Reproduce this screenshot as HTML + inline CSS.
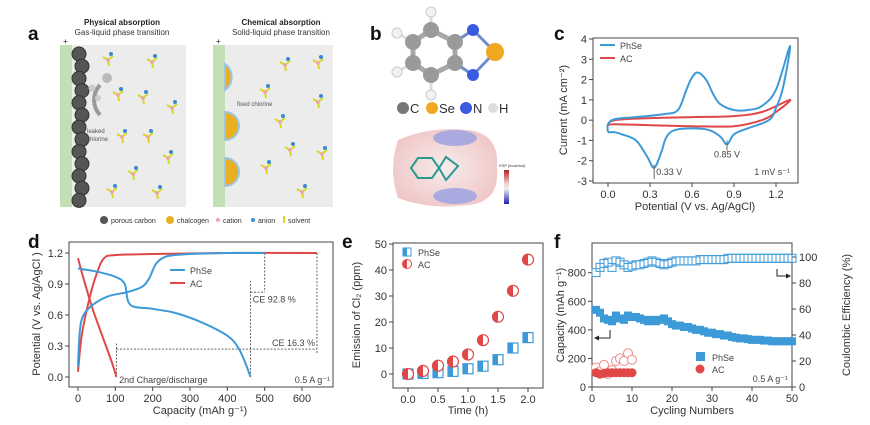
<!DOCTYPE html>
<html><head><meta charset="utf-8"><style>
body{margin:0;background:#fff}
svg{display:block;font-family:"Liberation Sans",sans-serif}
.t{font-size:11px;fill:#333}
.s{font-size:9px;fill:#444}
.L{font-size:19px;font-weight:bold;fill:#111}
</style></head><body>
<svg id="svg" width="870" height="425" viewBox="0 0 870 425">
<!-- panel a -->
<g>
<text class="L" x="28" y="40">a</text>
<text x="122" y="25" text-anchor="middle" font-size="8" font-weight="bold" fill="#222">Physical absorption</text>
<text x="122" y="35" text-anchor="middle" font-size="8" fill="#333">Gas-liquid phase transition</text>
<text x="281" y="25" text-anchor="middle" font-size="8" font-weight="bold" fill="#222">Chemical absorption</text>
<text x="281" y="35" text-anchor="middle" font-size="8" fill="#333">Solid-liquid phase transition</text>
<rect x="60" y="45" width="126" height="162" fill="#ececec"/>
<rect x="60" y="45" width="12" height="162" fill="#c3e0b4"/>
<rect x="213" y="45" width="120" height="162" fill="#ececec"/>
<rect x="213" y="45" width="12" height="162" fill="#c3e0b4"/>
<text x="63" y="44" font-size="8" fill="#222">+</text><text x="216" y="44" font-size="8" fill="#222">+</text>
<g id="carbon"></g>
<path d="M100 85 A22 22 0 0 0 100 115" fill="none" stroke="#999" stroke-width="4"/>
<circle cx="107" cy="78" r="5" fill="#bbb"/><circle cx="92" cy="88" r="3.5" fill="#ccc"/><circle cx="98" cy="98" r="3" fill="#ccc"/>
<text x="87" y="133" font-size="6" fill="#555">leaked</text><text x="87" y="141" font-size="6" fill="#555">chlorine</text>
<g fill="#e8b020" stroke="#9cc6e6" stroke-width="2">
<path d="M225 64 A16 16 0 0 1 225 90 Z"/><path d="M225 112 A14 14 0 0 1 225 140 Z"/><path d="M225 158 A14 14 0 0 1 225 186 Z"/>
</g>
<text x="237" y="106" font-size="6" fill="#555">fixed chlorine</text>
<g id="solv"></g>
<g font-size="7" fill="#333">
<circle cx="104" cy="220" r="4" fill="#555"/><text x="111" y="223">porous carbon</text>
<circle cx="170" cy="220" r="4" fill="#e8b020"/><text x="177" y="223">chalcogen</text>
<circle cx="218" cy="220" r="2" fill="#f0a0b0"/><text x="223" y="223">cation</text>
<circle cx="253" cy="220" r="2" fill="#3a8ad0"/><text x="258" y="223">anion</text>
<rect x="283" y="216" width="2" height="7" fill="#d8d820"/><text x="288" y="223">solvent</text>
</g>
</g>
<!-- panel b -->
<g>
<text class="L" x="370" y="40">b</text>
<g stroke="#a8a8a8" stroke-width="5">
<path d="M431 30 L455 42 L455 63 L431 75 L413 63 L413 42 Z" fill="none"/>
<line x1="431" y1="30" x2="431" y2="12" stroke="#ddd" stroke-width="3"/><line x1="431" y1="75" x2="431" y2="95" stroke="#ddd" stroke-width="3"/>
<line x1="413" y1="42" x2="397" y2="33" stroke="#ddd" stroke-width="3"/><line x1="413" y1="63" x2="397" y2="72" stroke="#ddd" stroke-width="3"/>
<line x1="455" y1="42" x2="473" y2="30" stroke="#6d8cd0" stroke-width="3"/><line x1="455" y1="63" x2="473" y2="75" stroke="#6d8cd0" stroke-width="3"/>
<line x1="473" y1="30" x2="495" y2="52" stroke="#6d8cd0" stroke-width="3"/><line x1="473" y1="75" x2="495" y2="52" stroke="#6d8cd0" stroke-width="3"/>
</g>
<g>
<circle cx="431" cy="12" r="5" fill="#f2f2f2" stroke="#ccc"/><circle cx="397" cy="33" r="5" fill="#f2f2f2" stroke="#ccc"/><circle cx="397" cy="72" r="5" fill="#f2f2f2" stroke="#ccc"/><circle cx="431" cy="95" r="5" fill="#f2f2f2" stroke="#ccc"/>
<circle cx="431" cy="30" r="8" fill="#9a9a9a"/><circle cx="455" cy="42" r="8" fill="#9a9a9a"/><circle cx="455" cy="63" r="8" fill="#9a9a9a"/><circle cx="431" cy="75" r="8" fill="#9a9a9a"/><circle cx="413" cy="63" r="8" fill="#9a9a9a"/><circle cx="413" cy="42" r="8" fill="#9a9a9a"/>
<circle cx="473" cy="30" r="6" fill="#3a5ae0"/><circle cx="473" cy="75" r="6" fill="#3a5ae0"/><circle cx="495" cy="52" r="9" fill="#f0a820"/>
</g>
<g font-size="13" fill="#333">
<circle cx="403" cy="108" r="6" fill="#777"/><text x="410" y="113">C</text>
<circle cx="432" cy="108" r="6" fill="#f0a820"/><text x="439" y="113">Se</text>
<circle cx="466" cy="108" r="6" fill="#3a5ae0"/><text x="473" y="113">N</text>
<circle cx="493" cy="108" r="5" fill="#ddd"/><text x="499" y="113">H</text>
</g>
<defs><linearGradient id="cb" x1="0" y1="0" x2="0" y2="1"><stop offset="0" stop-color="#b02020"/><stop offset=".4" stop-color="#f0d0d0"/><stop offset=".55" stop-color="#eee"/><stop offset="1" stop-color="#2020b0"/></linearGradient>
<radialGradient id="esp" cx=".5" cy=".5" r=".6"><stop offset="0" stop-color="#f8ecec"/><stop offset="1" stop-color="#efc4c4"/></radialGradient></defs>
<path d="M398 140 Q430 126 468 130 Q500 134 497 168 Q500 202 468 205 Q430 210 398 198 Q388 170 398 140Z" fill="url(#esp)"/>
<ellipse cx="455" cy="138" rx="22" ry="8" fill="#8a9ae6" opacity=".7"/><ellipse cx="455" cy="196" rx="22" ry="8" fill="#8a9ae6" opacity=".7"/>
<path d="M418 158 L432 158 L439 168 L432 178 L418 178 L411 168Z M439 168 L446 157 L458 166 L446 180Z" fill="none" stroke="#2a9a90" stroke-width="2"/>
<rect x="504" y="170" width="5" height="34" fill="url(#cb)"/>
<text x="499" y="167" font-size="4" fill="#333">ESP (kcal/mol)</text>
</g>
<!-- chart panels -->
<g id="charts"></g>
<text class="L" x="554" y="40">c</text>
<text class="L" x="28" y="248">d</text>
<text class="L" x="342" y="248">e</text>
<text class="L" x="554" y="248">f</text>
</svg>
<script>
// ---- data ----
const cvPhSeV=[0,0,0.05,0.2,0.4,0.5,0.56,0.6,0.64,0.7,0.75,0.8,0.9,1.0,1.1,1.2,1.3,1.25,1.2,1.15,1.0,0.9,0.85,0.8,0.7,0.5,0.42,0.38,0.33,0.28,0.2,0.1,0.05,0];
const cvPhSeI=[-0.6,-0.2,0.05,0.15,0.3,0.5,1.5,2.1,2.35,2.0,1.3,0.8,0.5,0.5,0.7,1.5,3.65,1.6,0.6,0.0,-0.4,-0.7,-1.2,-0.8,-0.45,-0.45,-0.8,-1.6,-2.35,-1.8,-1.0,-0.7,-0.6,-0.6];
const cvACV=[0,0.05,0.3,0.6,0.9,1.1,1.3,1.2,1.1,0.9,0.6,0.3,0.05,0];
const cvACI=[-0.2,0.0,0.1,0.15,0.2,0.4,1.0,0.4,0.0,-0.3,-0.3,-0.25,-0.2,-0.25];
const cdPhSeChgQ=[0,5,15,40,80,130,170,190,210,240,300,400,500];
const cdPhSeChgV=[0.1,0.45,0.6,0.7,0.78,0.82,0.87,0.95,1.1,1.17,1.19,1.2,1.2];
const cdPhSeDisQ=[0,50,100,125,140,200,260,330,400,430,450,462];
const cdPhSeDisV=[1.05,1.02,0.97,0.9,0.7,0.66,0.62,0.53,0.4,0.28,0.12,0];
const cdACChgQ=[0,10,30,50,70,100,200,400,640];
const cdACChgV=[0.05,0.4,0.75,1.0,1.15,1.18,1.19,1.2,1.2];
const cdACDisQ=[0,15,40,70,90,103];
const cdACDisV=[1.15,0.95,0.65,0.35,0.15,0];
const emTime=[0,0.25,0.5,0.75,1,1.25,1.5,1.75,2];
const emPhSe=[0,0.2,0.5,1,2,3,5.5,10,14];
const emAC=[0,1.2,3.2,4.8,7.5,13,22,32,44];
const cyPhSeCap=[540,520,480,470,460,500,480,470,500,490,490,480,470,460,470,460,470,480,460,440,430,430,420,420,410,400,400,390,380,380,370,370,360,360,350,345,340,340,335,330,330,330,325,325,320,320,320,320,320,320];
const cyPhSeCE=[88,92,95,96,92,97,96,94,92,93,94,94,95,96,97,96,95,94,95,96,97,97,97,97,97,97,98,98,98,98,98,98,98,99,99,99,99,99,99,99,99,99,99,99,99,99,99,99,99,99];
const cyACCap=[100,90,95,100,100,100,100,100,100,100];
const cyACCE=[15,12,17,10,13,20,22,20,26,21];
const blue="#3d9ad8",red="#e04848";
const NS="http://www.w3.org/2000/svg";
const root=document.getElementById('charts');
function el(tag,attrs,parent){const e=document.createElementNS(NS,tag);for(const k in attrs)e.setAttribute(k,attrs[k]);(parent||root).appendChild(e);return e;}
function txt(x,y,s,cls,anchor,parent){const e=el('text',{x:x,y:y,class:cls||'t','text-anchor':anchor||'middle'},parent);e.textContent=s;return e;}
function lin(d0,d1,r0,r1){return v=>r0+(v-d0)*(r1-r0)/(d1-d0);}
function smooth(P){let d='M'+P[0][0]+' '+P[0][1];for(let i=0;i<P.length-1;i++){const p0=P[Math.max(i-1,0)],p1=P[i],p2=P[i+1],p3=P[Math.min(i+2,P.length-1)];
const c1=[p1[0]+(p2[0]-p0[0])/6,p1[1]+(p2[1]-p0[1])/6],c2=[p2[0]-(p3[0]-p1[0])/6,p2[1]-(p3[1]-p1[1])/6];
d+=` C${c1[0].toFixed(1)} ${c1[1].toFixed(1)} ${c2[0].toFixed(1)} ${c2[1].toFixed(1)} ${p2[0].toFixed(1)} ${p2[1].toFixed(1)}`;}return d;}
function line(xs,ys,X,Y,color,name){const p=el('path',{d:smooth(xs.map((v,i)=>[X(v),Y(ys[i])])),fill:'none',stroke:color,'stroke-width':2,'stroke-linejoin':'round'});

return p;}
function frame(x0,y0,x1,y1,name){const r=el('rect',{x:x0,y:y0,width:x1-x0,height:y1-y0,fill:'none',stroke:'#444','stroke-width':1});

}
function xticks(vals,X,yb,labels){vals.forEach((v,i)=>{el('line',{x1:X(v),x2:X(v),y1:yb,y2:yb+4,stroke:'#444'});const t=txt(X(v),yb+15,labels[i]);

});}
function yticks(vals,Y,xl,labels,right){vals.forEach((v,i)=>{el('line',{x1:xl,x2:right?xl+4:xl-4,y1:Y(v),y2:Y(v),stroke:'#444'});const t=txt(right?xl+7:xl-6,Y(v)+4,labels[i],'t',right?'start':'end');

});}
function vtitle(x,y,s){const t=txt(x,y,s);t.setAttribute('transform','rotate(-90 '+x+' '+y+')');

return t;}
// ---- panel c ----
(function(){const X=lin(0,1.2,608,776),Y=lin(4,-3,39,181);
frame(593,38,798,183,'cv-plot-frame');
const cvTicks=[0,0.3,0.6,0.9,1.2];xticks(cvTicks,X,183,['0.0','0.3','0.6','0.9','1.2']);
const cyT=[4,3,2,1,0,-1,-2,-3];yticks(cyT,Y,593,cyT.map(String));
const xt=txt(695,210,'Potential (V vs. Ag/AgCl)');
vtitle(567,110,'Current (mA cm⁻²)');
line(cvACV,cvACI,X,Y,red,'cv-ac-curve');line(cvPhSeV,cvPhSeI,X,Y,blue,'cv-phse-curve');
el('line',{x1:X(0.33),x2:X(0.33),y1:Y(-2.2),y2:Y(-2.9),stroke:'#666'});txt(X(0.33)+2,Y(-2.7),'0.33 V','s','start');
el('line',{x1:X(0.85),x2:X(0.85),y1:Y(-1.0),y2:Y(-1.5),stroke:'#666'});txt(X(0.85),Y(-1.85),'0.85 V','s');
txt(790,Y(-2.7),'1 mV s⁻¹','s','end');
el('line',{x1:600,x2:615,y1:45,y2:45,stroke:blue,'stroke-width':2});txt(620,49,'PhSe','s','start');
el('line',{x1:600,x2:615,y1:58,y2:58,stroke:red,'stroke-width':2});txt(620,62,'AC','s','start');})();
// ---- panel d ----
(function(){const X=lin(0,600,78,302),Y=lin(0,1.2,377,253);
frame(69,242,333,387,'cd-plot-frame');
const dx=[0,100,200,300,400,500,600];xticks(dx,X,387,dx.map(String));
const dy=[0,0.3,0.6,0.9,1.2];yticks(dy,Y,69,['0.0','0.3','0.6','0.9','1.2']);
const xt=txt(200,414,'Capacity (mAh g⁻¹)');
vtitle(40,314,'Potential (V vs. Ag/AgCl )');
const ds={stroke:'#666','stroke-dasharray':'2,1.5','stroke-width':1};
[[462,0,462,0.93],[500,1.2,500,0.82],[462,0.82,500,0.82],[103,0,103,0.33],[103,0.27,640,0.27],[640,1.2,640,0.22]].forEach(a=>el('line',Object.assign({x1:X(a[0]),y1:Y(a[1]),x2:X(a[2]),y2:Y(a[3])},ds)));
line(cdACChgQ,cdACChgV,X,Y,red,'cd-ac-charge');line(cdACDisQ,cdACDisV,X,Y,red,'cd-ac-discharge');
line(cdPhSeChgQ,cdPhSeChgV,X,Y,blue,'cd-phse-charge');line(cdPhSeDisQ,cdPhSeDisV,X,Y,blue,'cd-phse-discharge');
txt(X(468),Y(0.72),'CE 92.8 %','s','start');txt(X(635),Y(0.3),'CE 16.3 %','s','end');
txt(X(110),Y(-0.06),'2nd Charge/discharge','s','start');txt(330,Y(-0.06),'0.5 A g⁻¹','s','end');
el('line',{x1:170,x2:185,y1:270,y2:270,stroke:blue,'stroke-width':2});txt(190,274,'PhSe','s','start');
el('line',{x1:170,x2:185,y1:283,y2:283,stroke:red,'stroke-width':2});txt(190,287,'AC','s','start');})();
// ---- panel e ----
(function(){const X=lin(0,2,408,528),Y=lin(0,50,374,244);
frame(393,243,543,388,'emission-plot-frame');
const ex=[0,0.5,1,1.5,2];xticks(ex,X,388,['0.0','0.5','1.0','1.5','2.0']);
const ey=[0,10,20,30,40,50];yticks(ey,Y,393,ey.map(String));
const xt=txt(468,414,'Time (h)');
vtitle(360,315,'Emission of Cl₂ (ppm)');
emTime.forEach((t,i)=>{const x=X(t),y=Y(emPhSe[i]);
const r=el('rect',{x:x-5,y:y-5,width:10,height:10,fill:'#fff',stroke:blue,'stroke-width':1.2});


el('rect',{x:x-5,y:y-5,width:5,height:10,fill:blue});});
emTime.forEach((t,i)=>{const x=X(t),y=Y(emAC[i]);
const c=el('circle',{cx:x,cy:y,r:5.5,fill:'#fff',stroke:red,'stroke-width':1.2});


el('path',{d:`M${x} ${y-5.5} A5.5 5.5 0 0 0 ${x} ${y+5.5}Z`,fill:red});});
el('rect',{x:403,y:248,width:8,height:8,fill:'#fff',stroke:blue});el('rect',{x:403,y:248,width:4,height:8,fill:blue});txt(418,256,'PhSe','s','start');
el('circle',{cx:407,cy:264,r:4.5,fill:'#fff',stroke:red});el('path',{d:'M407 259.5 A4.5 4.5 0 0 0 407 268.5Z',fill:red});txt(418,268,'AC','s','start');})();
// ---- panel f ----
(function(){const X=lin(0,50,592,792),Y=lin(0,800,387,272.7),Y2=lin(0,100,387,257);
frame(592,243,792,387,'cycling-plot-frame');
const fx=[0,10,20,30,40,50];xticks(fx,X,387,fx.map(String));
const fy=[0,200,400,600,800];yticks(fy,Y,592,fy.map(String));
const fy2=[0,20,40,60,80,100];yticks(fy2,Y2,792,fy2.map(String),true);
const xt=txt(692,414,'Cycling Numbers');
vtitle(564,315,'Capacity (mAh g⁻¹)');
const t2=txt(850,315,'Coulombic Efficiency (%)');t2.setAttribute('transform','rotate(-90 850 315)');
cyPhSeCE.forEach((v,i)=>{const r=el('rect',{x:X(i+1)-4,y:Y2(v)-4,width:8,height:8,fill:'none',stroke:blue,'stroke-width':1});

});
cyPhSeCap.forEach((v,i)=>{const r=el('rect',{x:X(i+1)-4,y:Y(v)-4,width:8,height:8,fill:blue});

});
cyACCE.forEach((v,i)=>{const c=el('circle',{cx:X(i+1),cy:Y2(v),r:4.5,fill:'#fff',stroke:'#f08a8a','stroke-width':1});

});
cyACCap.forEach((v,i)=>{const c=el('circle',{cx:X(i+1),cy:Y(v),r:4.5,fill:red});

});
el('polyline',{points:'610,330 610,338 596,338',fill:'none',stroke:'#222'});el('path',{d:'M594 338 L599 335.5 L599 340.5Z',fill:'#222'});
el('polyline',{points:'777,269 777,276 789,276',fill:'none',stroke:'#222'});el('path',{d:'M791 276 L786 273.5 L786 278.5Z',fill:'#222'});
el('rect',{x:696,y:352,width:9,height:9,fill:blue});txt(712,361,'PhSe','s','start');
el('circle',{cx:700,cy:369,r:4.5,fill:red});txt(712,373,'AC','s','start');
txt(788,382,'0.5 A g⁻¹','s','end');})();
// ---- panel a decorations ----
(function(){const g=document.getElementById('carbon');
for(let i=0;i<13;i++){el('circle',{cx:i%2?82:79,cy:54+i*12.2,r:7,fill:'#555',stroke:'#333'},g);}
const s=document.getElementById('solv');
[[108,60],[152,62],[118,95],[143,98],[172,108],[122,137],[148,137],[168,158],[133,174],[112,192],[157,193],[285,65],[318,63],[265,92],[318,102],[280,122],[290,150],[322,154],[266,168],[302,192]].forEach(p=>{
el('path',{d:`M${p[0]} ${p[1]} l-5 -3 M${p[0]} ${p[1]} l5 -4 M${p[0]} ${p[1]} l1 6`,stroke:'#d8d820','stroke-width':2},s);
el('circle',{cx:p[0],cy:p[1],r:1.8,fill:'#f0a0b0'},s);el('circle',{cx:p[0]+3,cy:p[1]-6,r:2,fill:'#3a8ad0'},s);});})();
</script>
</body></html>
